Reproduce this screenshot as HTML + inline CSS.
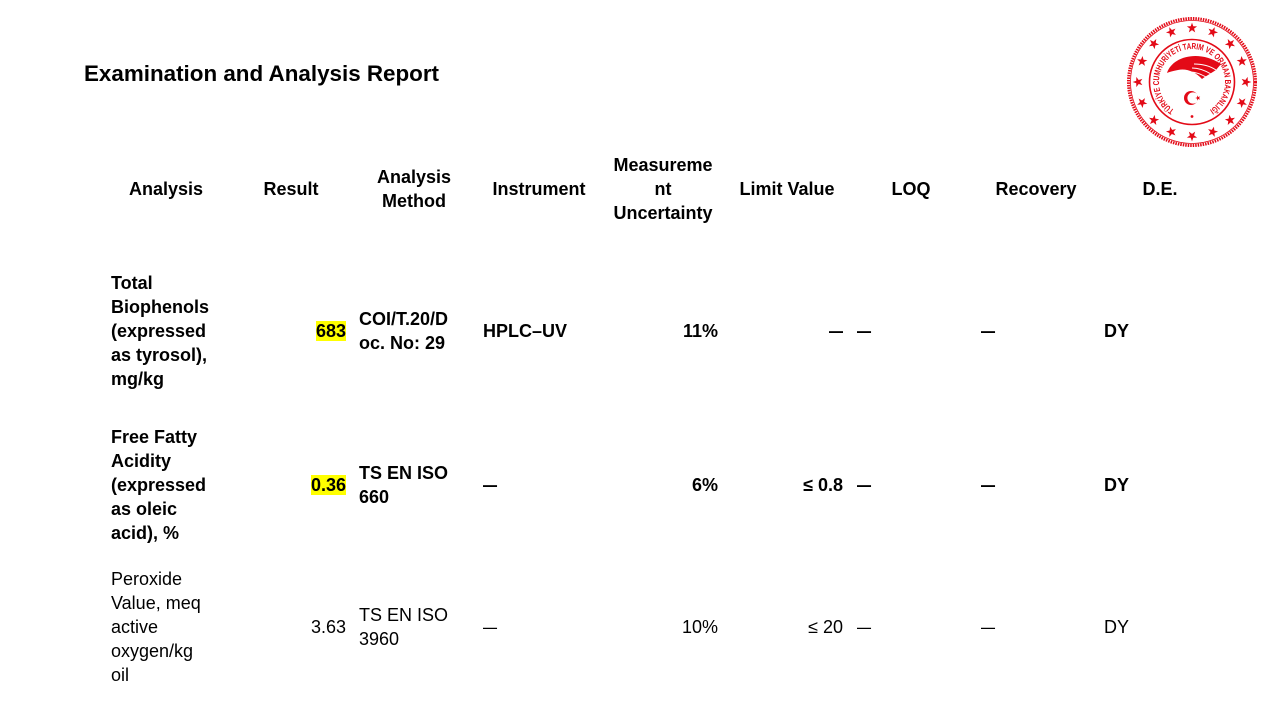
<!DOCTYPE html>
<html>
<head>
<meta charset="utf-8">
<style>
  html,body{margin:0;padding:0;}
  body{width:1280px;height:720px;background:#fff;position:relative;overflow:hidden;
       font-family:"Liberation Sans",sans-serif;color:#000;}
  .t{position:absolute;font-size:18px;line-height:24px;white-space:nowrap;}
  .b{font-weight:bold;}
  .h{font-weight:bold;text-align:center;width:150px;}
  .r{text-align:right;}
  .hl{background:#ffff00;}
  .d{display:inline-block;transform:scaleX(0.78);transform-origin:left center;}
  .r .d{transform-origin:right center;}
  #title{position:absolute;left:84px;top:60px;font-size:22.4px;font-weight:bold;line-height:28px;white-space:nowrap;}
</style>
</head>
<body>
<div id="title">Examination and Analysis Report</div>

<svg style="position:absolute;left:0;top:0" width="1280" height="720">
  <defs>
    <polygon id="st" points="0,-5.4 1.27,-1.75 5.14,-1.67 2.06,0.67 3.17,4.37 0,2.17 -3.17,4.37 -2.06,0.67 -5.14,-1.67 -1.27,-1.75" fill="#e30a17"/>
    <path id="ring" d="M 0,33 A 33,33 0 1,1 0,-33 A 33,33 0 1,1 0,33"/>
  </defs>
  <g transform="translate(1192,82)">
    <circle r="63.5" fill="none" stroke="#e30a17" stroke-width="3" stroke-dasharray="1.5 1"/>
    <circle r="61.5" fill="none" stroke="#e30a17" stroke-width="0.8"/>
    <circle r="42.5" fill="none" stroke="#e30a17" stroke-width="1.6"/>
    <!-- stars -->
    <use href="#st" transform="rotate(0) translate(0,-54)"/>
    <use href="#st" transform="rotate(22.5) translate(0,-54)"/>
    <use href="#st" transform="rotate(45) translate(0,-54)"/>
    <use href="#st" transform="rotate(67.5) translate(0,-54)"/>
    <use href="#st" transform="rotate(90) translate(0,-54)"/>
    <use href="#st" transform="rotate(112.5) translate(0,-54)"/>
    <use href="#st" transform="rotate(135) translate(0,-54)"/>
    <use href="#st" transform="rotate(157.5) translate(0,-54)"/>
    <use href="#st" transform="rotate(180) translate(0,-54)"/>
    <use href="#st" transform="rotate(202.5) translate(0,-54)"/>
    <use href="#st" transform="rotate(225) translate(0,-54)"/>
    <use href="#st" transform="rotate(247.5) translate(0,-54)"/>
    <use href="#st" transform="rotate(270) translate(0,-54)"/>
    <use href="#st" transform="rotate(292.5) translate(0,-54)"/>
    <use href="#st" transform="rotate(315) translate(0,-54)"/>
    <use href="#st" transform="rotate(337.5) translate(0,-54)"/>
    <!-- ring text -->
    <text font-family="Liberation Sans, sans-serif" font-size="8.6" font-weight="bold" fill="#e30a17">
      <textPath href="#ring" startOffset="50%" text-anchor="middle" textLength="170" lengthAdjust="spacingAndGlyphs">TÜRKİYE CUMHURİYETİ TARIM VE ORMAN BAKANLIĞI</textPath>
    </text>
    <circle cx="0" cy="34.5" r="1.4" fill="#e30a17"/>
    <!-- emblem fan -->
    <path d="M -25,-9 C -20,-25 6,-33 29,-18 L 24,-12 C 18,-8 14,-6 10,-3 C 4,-10 -6,-14 -14,-12 C -19,-11 -23,-10 -25,-9 Z" fill="#e30a17"/>
    <path d="M 2,-18 C 10,-18 18,-16 24,-12" fill="none" stroke="#fff" stroke-width="1"/>
    <path d="M 0,-14 C 8,-14 14,-11 19,-8" fill="none" stroke="#fff" stroke-width="1"/>
    <path d="M -2,-10 C 5,-10 10,-7 14,-5" fill="none" stroke="#fff" stroke-width="0.9"/>
    <!-- crescent and star -->
    <circle cx="-1" cy="16" r="7" fill="#e30a17"/>
    <circle cx="1" cy="16" r="5.6" fill="#fff"/>
    <use href="#st" transform="translate(6,16) scale(0.5) rotate(-90)"/>
  </g>
</svg>

<!-- headers -->
<div class="t h" style="left:91px;top:177px;">Analysis</div>
<div class="t h" style="left:216px;top:177px;">Result</div>
<div class="t h" style="left:339px;top:165px;">Analysis<br>Method</div>
<div class="t h" style="left:464px;top:177px;">Instrument</div>
<div class="t h" style="left:588px;top:153px;">Measureme<br>nt<br>Uncertainty</div>
<div class="t h" style="left:712px;top:177px;">Limit Value</div>
<div class="t h" style="left:836px;top:177px;">LOQ</div>
<div class="t h" style="left:961px;top:177px;">Recovery</div>
<div class="t h" style="left:1085px;top:177px;">D.E.</div>

<!-- row 1 -->
<div class="t b" style="left:111px;top:271px;">Total<br>Biophenols<br>(expressed<br>as tyrosol),<br>mg/kg</div>
<div class="t b r" style="right:934px;top:319px;"><span class="hl">683</span></div>
<div class="t b" style="left:359px;top:307px;">COI/T.20/D<br>oc. No: 29</div>
<div class="t b" style="left:483px;top:319px;">HPLC–UV</div>
<div class="t b r" style="right:562px;top:319px;">11%</div>
<div class="t b r" style="right:437px;top:319px;"><span class="d">—</span></div>
<div class="t b" style="left:857px;top:319px;"><span class="d">—</span></div>
<div class="t b" style="left:981px;top:319px;"><span class="d">—</span></div>
<div class="t b" style="left:1104px;top:319px;">DY</div>

<!-- row 2 -->
<div class="t b" style="left:111px;top:425px;">Free Fatty<br>Acidity<br>(expressed<br>as oleic<br>acid), %</div>
<div class="t b r" style="right:934px;top:473px;"><span class="hl">0.36</span></div>
<div class="t b" style="left:359px;top:461px;">TS EN ISO<br>660</div>
<div class="t b" style="left:483px;top:473px;"><span class="d">—</span></div>
<div class="t b r" style="right:562px;top:473px;">6%</div>
<div class="t b r" style="right:437px;top:473px;">≤ 0.8</div>
<div class="t b" style="left:857px;top:473px;"><span class="d">—</span></div>
<div class="t b" style="left:981px;top:473px;"><span class="d">—</span></div>
<div class="t b" style="left:1104px;top:473px;">DY</div>

<!-- row 3 -->
<div class="t" style="left:111px;top:567px;">Peroxide<br>Value, meq<br>active<br>oxygen/kg<br>oil</div>
<div class="t r" style="right:934px;top:615px;">3.63</div>
<div class="t" style="left:359px;top:603px;">TS EN ISO<br>3960</div>
<div class="t" style="left:483px;top:615px;"><span class="d">—</span></div>
<div class="t r" style="right:562px;top:615px;">10%</div>
<div class="t r" style="right:437px;top:615px;">≤ 20</div>
<div class="t" style="left:857px;top:615px;"><span class="d">—</span></div>
<div class="t" style="left:981px;top:615px;"><span class="d">—</span></div>
<div class="t" style="left:1104px;top:615px;">DY</div>
</body>
</html>
